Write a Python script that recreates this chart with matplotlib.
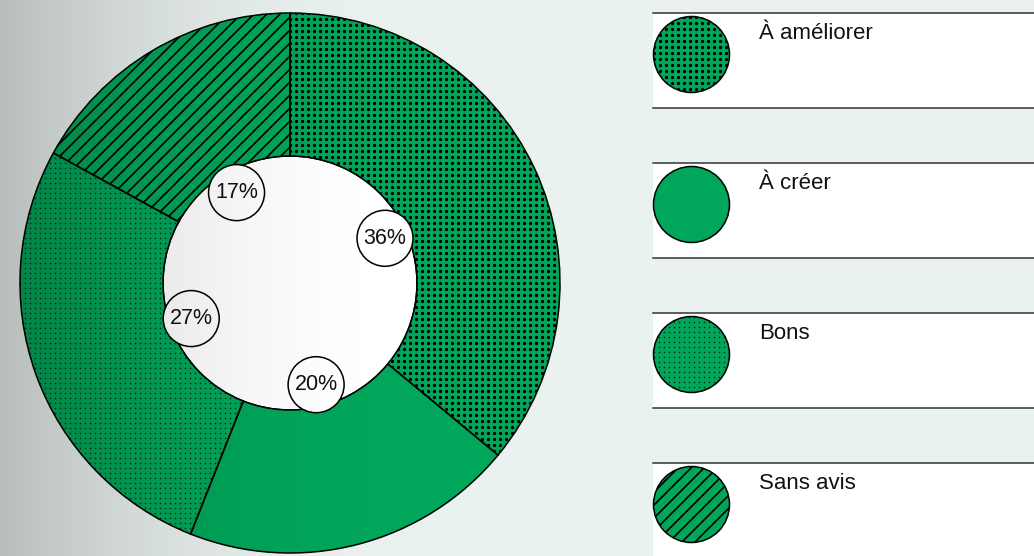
import matplotlib.pyplot as plt
import numpy as np
from matplotlib.collections import LineCollection
from matplotlib.patches import Circle, Rectangle, Wedge

plt.rcParams['font.family'] = ['Liberation Sans', 'DejaVu Sans']

# ---------------------------------------------------------------------------
# Donut chart: share of answers per category, legend panel on the right.
# ---------------------------------------------------------------------------

categories = ['À améliorer', 'À créer', 'Bons', 'Sans avis']
shares = [36, 20, 27, 17]
textures = ['big_dots', 'solid', 'small_dots', 'lines']

GREEN = '#00a65a'
MINT = '#eaf2ef'
W, H = 1034, 556
PX = 270.0  # pixels per data unit in the pie axes
LIM = 1.02

fig = plt.figure(figsize=(W / 100, H / 100), dpi=100)
fig.patch.set_facecolor(MINT)

## --- texture helpers --- ##


def add_texture(ax, patch, kind, scale, cx, cy, r, flip=False):
    """Dots / diagonal lines clipped to a patch. scale = pixels per data unit."""
    if kind == 'solid':
        return
    if kind in ('big_dots', 'small_dots'):
        step = (6.0 if kind == 'big_dots' else 5.0) / scale
        size = 5.5 if kind == 'big_dots' else 1.3
        col = 'black' if kind == 'big_dots' else '#0b2a19'
        g = np.arange(-r, r + step, step)
        xx, yy = np.meshgrid(cx + g, cy + g)
        sc = ax.scatter(xx.ravel(), yy.ravel(), s=size, c=col, linewidths=0,
                        zorder=patch.get_zorder() + 0.1)
        sc.set_clip_path(patch)
    else:
        step = 13.0 / scale
        sgn = -1 if flip else 1
        offs = np.arange(-2 * r, 2 * r + step, step)
        segs = [[(cx - r, cy - sgn * r + o), (cx + r, cy + sgn * r + o)]
                for o in offs]
        lc = LineCollection(segs, colors='black', linewidths=1.2,
                            zorder=patch.get_zorder() + 0.1)
        ax.add_collection(lc)
        lc.set_clip_path(patch)


## --- donut --- ##

side = 2 * LIM * PX
ax = fig.add_axes([(290 - side / 2) / W, (H - 283 - side / 2) / H, side / W, side / H])
ax.set_zorder(1)
ax.set_facecolor('none')

hole_r = 127 / PX
ax.add_patch(Circle((0, 0), hole_r, facecolor='white', edgecolor='black',
                    linewidth=1.1, zorder=0.5))

wedges, _ = ax.pie(shares, startangle=90, counterclock=False, radius=1.0,
                   colors=[GREEN] * len(shares),
                   wedgeprops=dict(width=1.0 - hole_r, edgecolor='none'))
for w, kind in zip(wedges, textures):
    add_texture(ax, w, kind, PX, 0, 0, 1.0)
    ax.add_patch(Wedge(w.center, w.r, w.theta1, w.theta2, width=w.width,
                       facecolor='none', edgecolor='black', linewidth=1.1,
                       zorder=3))

# percentage bubbles on the inner edge
label_r = 105 / PX
bubble_r = 28 / PX
for w, val in zip(wedges, shares):
    mid = np.deg2rad((w.theta1 + w.theta2) / 2)
    x, y = label_r * np.cos(mid), label_r * np.sin(mid)
    ax.add_patch(Circle((x, y), bubble_r, facecolor='white', edgecolor='black',
                        linewidth=1.1, zorder=4))
    ax.text(x, y, f'{val}%', ha='center', va='center', fontsize=15.5,
            color='#111111', zorder=5)

ax.set_xlim(-LIM, LIM)
ax.set_ylim(-LIM, LIM)
ax.set_aspect('equal')
ax.axis('off')

## --- legend panel --- ##

leg = fig.add_axes([0, 0, 1, 1])
leg.set_zorder(2)
leg.set_facecolor('none')
leg.set_xlim(0, W)
leg.set_ylim(H, 0)
leg.axis('off')

for i, (name, kind) in enumerate(zip(categories, textures)):
    top = 13 + 150 * i
    leg.add_patch(Rectangle((653, top), W - 653, 95, facecolor='white',
                            edgecolor='none', zorder=1))
    leg.plot([653, W], [top, top], color='#333333', lw=1.1, zorder=2)
    leg.plot([653, W], [top + 95, top + 95], color='#333333', lw=1.1, zorder=2)
    c = Circle((691.5, top + 41.5), 38, facecolor=GREEN, edgecolor='none',
               zorder=2)
    leg.add_patch(c)
    add_texture(leg, c, kind, 1.0, 691.5, top + 41.5, 38, flip=True)
    leg.add_patch(Circle((691.5, top + 41.5), 38, facecolor='none',
                         edgecolor='black', linewidth=1.1, zorder=3))
    leg.text(759, top + 26, name, ha='left', va='baseline', fontsize=16,
             color='#111111', zorder=3)

## --- left shading gradient over everything --- ##

ov = fig.add_axes([0, 0, 1, 1])
ov.set_zorder(3)
ov.axis('off')
xs = np.arange(W)
alpha = 0.22 * np.clip(1 - xs / 420.0, 0, None) ** 2
rgba = np.zeros((1, W, 4))
rgba[0, :, 3] = alpha
ov.imshow(rgba, aspect='auto', extent=(0, W, H, 0), interpolation='bilinear')
ov.set_xlim(0, W)
ov.set_ylim(H, 0)

fig.savefig('out.png', dpi=100, facecolor=fig.get_facecolor())
